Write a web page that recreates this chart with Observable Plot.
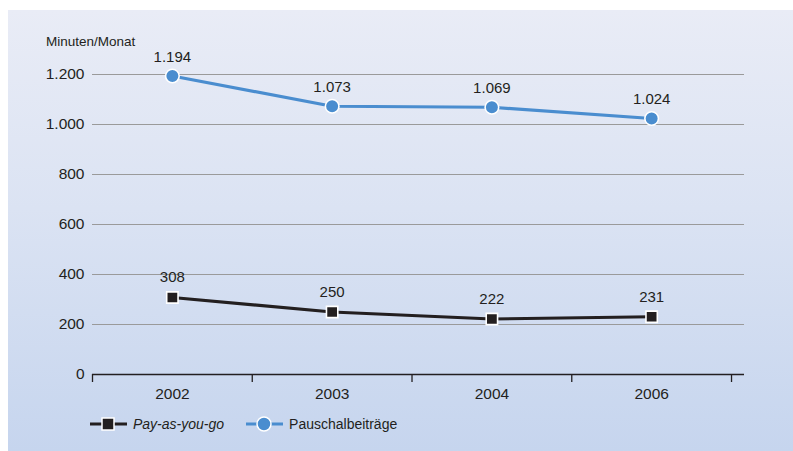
<!DOCTYPE html>
<html>
<head>
<meta charset="utf-8">
<script src="https://cdn.jsdelivr.net/npm/d3@7"></script>
<script src="https://cdn.jsdelivr.net/npm/@observablehq/plot@0.6"></script>
<style>
  html, body { margin: 0; padding: 0; background: #fff; }
  body { width: 793px; height: 451px; position: relative; overflow: hidden;
         font-family: "Liberation Sans", Arial, sans-serif; color: #231f20; }
  #panel { position: absolute; left: 8px; top: 10px; right: 0; bottom: 0;
           background: linear-gradient(to bottom, #e9ecf6 0%, #dbe3f3 45%, #c6d5ee 100%); }
  #chart { position: absolute; left: 0; top: 0; }
  #unit { position: absolute; left: 46px; top: 34px; font-size: 13.5px; }
  #legend { position: absolute; left: 90px; top: 413px; display: flex; align-items: center; font-size: 14px; }
  .item { display: flex; align-items: center; }
  .item svg { margin-right: 6px; }
</style>
</head>
<body>
<div id="panel"></div>
<div id="chart"></div>
<div id="unit">Minuten/Monat</div>
<div id="legend"></div>
<script>
// Categories and series
const years = ["2002", "2003", "2004", "2006"];
const payAsYouGo = [308, 250, 222, 231];
const pauschal = [1194, 1073, 1069, 1024];
const yTicks = [0, 200, 400, 600, 800, 1000, 1200];

const seriesNames = ["Pay-as-you-go", "Pauschalbeiträge"];
const colors = ["#231f20", "#4a8dcf"];

const de = d3.formatLocale({decimal: ",", thousands: ".", grouping: [3], currency: ["", " €"]});
const fmt = de.format(",");

const rowsA = years.map((y, i) => ({i, year: y, v: payAsYouGo[i]}));
const rowsB = years.map((y, i) => ({i, year: y, v: pauschal[i]}));
const bounds = d3.range(years.length + 1).map(k => k - 0.5);

const chart = Plot.plot({
  width: 793,
  height: 410,
  marginLeft: 92,
  marginRight: 49,
  marginTop: 39,
  marginBottom: 36,
  style: {background: "transparent", fontFamily: "\"Liberation Sans\", Arial, sans-serif", fontSize: "15.5px", color: "#231f20", overflow: "visible"},
  x: {type: "linear", domain: [-0.5, years.length - 0.5 + 13 / 160]},
  y: {domain: [0, 1340]},
  marks: [
    Plot.ruleY(yTicks.filter(d => d > 0), {stroke: "#9a9a9a", strokeWidth: 1.2}),
    Plot.axisY({ticks: yTicks, tickSize: 0, tickPadding: 8, tickFormat: fmt, label: null}),
    Plot.axisX({ticks: bounds, tickSize: 8, tickFormat: () => "", label: null, stroke: "#231f20", strokeWidth: 1.3}),
    Plot.axisX({ticks: d3.range(years.length), tickSize: 0, tickPadding: 13, tickFormat: i => years[i], label: null}),
    Plot.ruleY([0], {stroke: "#231f20", strokeWidth: 1.5}),
    Plot.line(rowsB, {x: "i", y: "v", stroke: colors[1], strokeWidth: 3.2}),
    Plot.line(rowsA, {x: "i", y: "v", stroke: colors[0], strokeWidth: 3.2}),
    Plot.dot(rowsB, {x: "i", y: "v", r: 6.8, fill: colors[1], stroke: "white", strokeWidth: 1.6}),
    Plot.dot(rowsA, {x: "i", y: "v", r: 6.4, symbol: "square", fill: colors[0], stroke: "white", strokeWidth: 1.6}),
    Plot.text(rowsB, {x: "i", y: "v", text: d => fmt(d.v), dy: -19, fill: "#231f20", fontSize: 15}),
    Plot.text(rowsA, {x: "i", y: "v", text: d => fmt(d.v), dy: -20, fill: "#231f20", fontSize: 15})
  ]
});
document.getElementById("chart").append(chart);

// Legend
const legend = document.getElementById("legend");
seriesNames.forEach((name, k) => {
  const item = document.createElement("div");
  item.className = "item";
  const sym = k === 0
    ? `<rect x="12" y="5" width="12" height="12" fill="${colors[0]}" stroke="white" stroke-width="1.5"/>`
    : `<circle cx="18" cy="11" r="7" fill="${colors[1]}" stroke="white" stroke-width="1.5"/>`;
  item.innerHTML = `<svg width="37" height="22"><line x1="0" x2="37" y1="11" y2="11" stroke="${colors[k]}" stroke-width="3.2"/>${sym}</svg>` +
    `<span style="${k === 0 ? "font-style: italic;" : ""}">${name}</span>`;
  if (k === 0) item.style.marginRight = "22px";
  legend.append(item);
});
</script>
</body>
</html>
